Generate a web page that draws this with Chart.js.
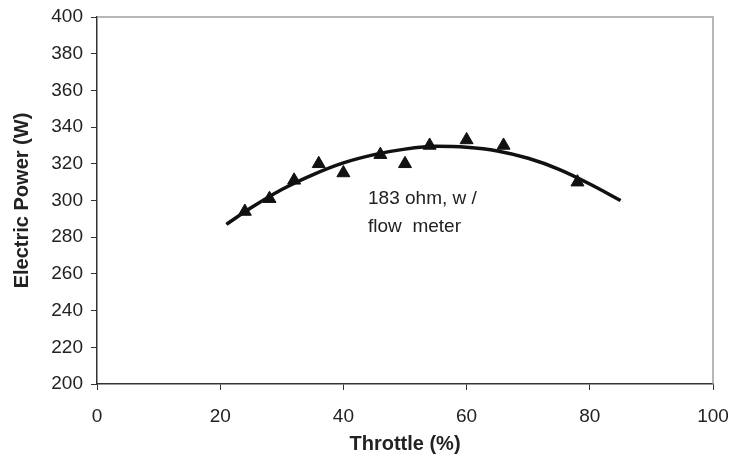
<!DOCTYPE html>
<html>
<head>
<meta charset="utf-8">
<script src="https://cdn.jsdelivr.net/npm/chart.js@4"></script>
<style>
  html, body { margin: 0; padding: 0; background: #fff; }
  #wrap { width: 730px; height: 460px; position: relative; }
</style>
</head>
<body>
<div id="wrap"><canvas id="powerChart"></canvas></div>
<script>
// measured points (triangles)
var throttle = [24, 28, 32, 36, 40, 46, 50, 54, 60, 66, 78];
var power = [294, 301, 311, 320, 315, 325, 320, 330, 333, 330, 310];

// trend line
var trendThrottle = [21, 25, 30, 35, 40, 45, 50, 55, 60, 65, 70, 75, 80, 85];
var trendPower = [287, 296, 306, 314, 320.5, 325, 328, 329.5, 329, 327, 323, 317, 309, 300];

var xTicks = [0, 20, 40, 60, 80, 100];
var yTicks = [200, 220, 240, 260, 280, 300, 320, 340, 360, 380, 400];

var noteLines = ["183 ohm, w /", "flow  meter"];
var notePos = { x: 44, y: 301 };

var canvas = document.getElementById("powerChart");
var ctx = canvas.getContext("2d");

function toPoints(xs, ys) {
  var pts = [];
  for (var i = 0; i < xs.length; i++) {
    pts.push({ x: xs[i], y: ys[i] });
  }
  return pts;
}

// grey frame on top/right + the text label
var framePlugin = {
  id: "frameAndNote",
  afterDraw: function (chart) {
    var a = chart.chartArea;
    var c = chart.ctx;
    c.save();
    c.strokeStyle = "#a0a0a0";
    c.lineWidth = 1.5;
    c.beginPath();
    c.moveTo(a.left, a.top);
    c.lineTo(a.right, a.top);
    c.lineTo(a.right, a.bottom);
    c.stroke();

    var xs = chart.scales.x;
    var ys = chart.scales.y;
    var px = xs.getPixelForValue(notePos.x);
    var py = ys.getPixelForValue(notePos.y);
    c.fillStyle = "#222";
    c.font = "19px 'Liberation Sans', Arial, sans-serif";
    c.textBaseline = "middle";
    c.textAlign = "left";
    for (var i = 0; i < noteLines.length; i++) {
      c.fillText(noteLines[i], px, py + i * 28);
    }
    c.restore();
  },
};

Chart.register(framePlugin);

var tickFont = { family: "'Liberation Sans', Arial, sans-serif", size: 19 };
var titleFont = { family: "'Liberation Sans', Arial, sans-serif", size: 20, weight: "bold" };

var powerChart = new Chart(ctx, {
  type: "scatter",
  data: {
    datasets: [
      {
        label: "trend",
        data: toPoints(trendThrottle, trendPower),
        showLine: true,
        borderColor: "#111",
        borderWidth: 3.5,
        pointRadius: 0,
        tension: 0.4,
        cubicInterpolationMode: "monotone",
      },
      {
        label: "measured",
        data: toPoints(throttle, power),
        pointStyle: "triangle",
        pointRadius: 7.5,
        backgroundColor: "#111",
        borderColor: "#111",
        borderWidth: 1,
      },
    ],
  },
  options: {
    responsive: true,
    maintainAspectRatio: false,
    animation: false,
    layout: { padding: { top: 17, right: 17, left: 0, bottom: 0 } },
    plugins: {
      legend: { display: false },
      tooltip: { enabled: false },
    },
    scales: {
      x: {
        type: "linear",
        min: 0,
        max: 100,
        afterBuildTicks: function (s) {
          s.ticks = xTicks.map(function (v) { return { value: v }; });
        },
        afterFit: function (s) {
          s.height = 76;
          s.paddingLeft = 0;
          s.paddingRight = 0;
        },
        grid: { drawOnChartArea: false, drawTicks: true, tickLength: 6, color: "#333" },
        border: { display: true, color: "#333", width: 1.5 },
        ticks: { color: "#222", font: tickFont, padding: 15, maxRotation: 0 },
        title: { display: true, text: "Throttle (%)", color: "#222", font: titleFont, padding: { top: 0, bottom: 4 } },
      },
      y: {
        type: "linear",
        min: 200,
        max: 400,
        afterBuildTicks: function (s) {
          s.ticks = yTicks.map(function (v) { return { value: v }; });
        },
        afterFit: function (s) {
          s.width = 97;
          s.paddingTop = 0;
          s.paddingBottom = 0;
        },
        grid: { drawOnChartArea: false, drawTicks: true, tickLength: 6, color: "#333" },
        border: { display: true, color: "#333", width: 1.5 },
        ticks: { color: "#222", font: tickFont, padding: 8 },
        title: { display: true, text: "Electric Power (W)", color: "#222", font: titleFont, padding: { top: 10, bottom: 0 } },
      },
    },
  },
});
</script>
</body>
</html>
